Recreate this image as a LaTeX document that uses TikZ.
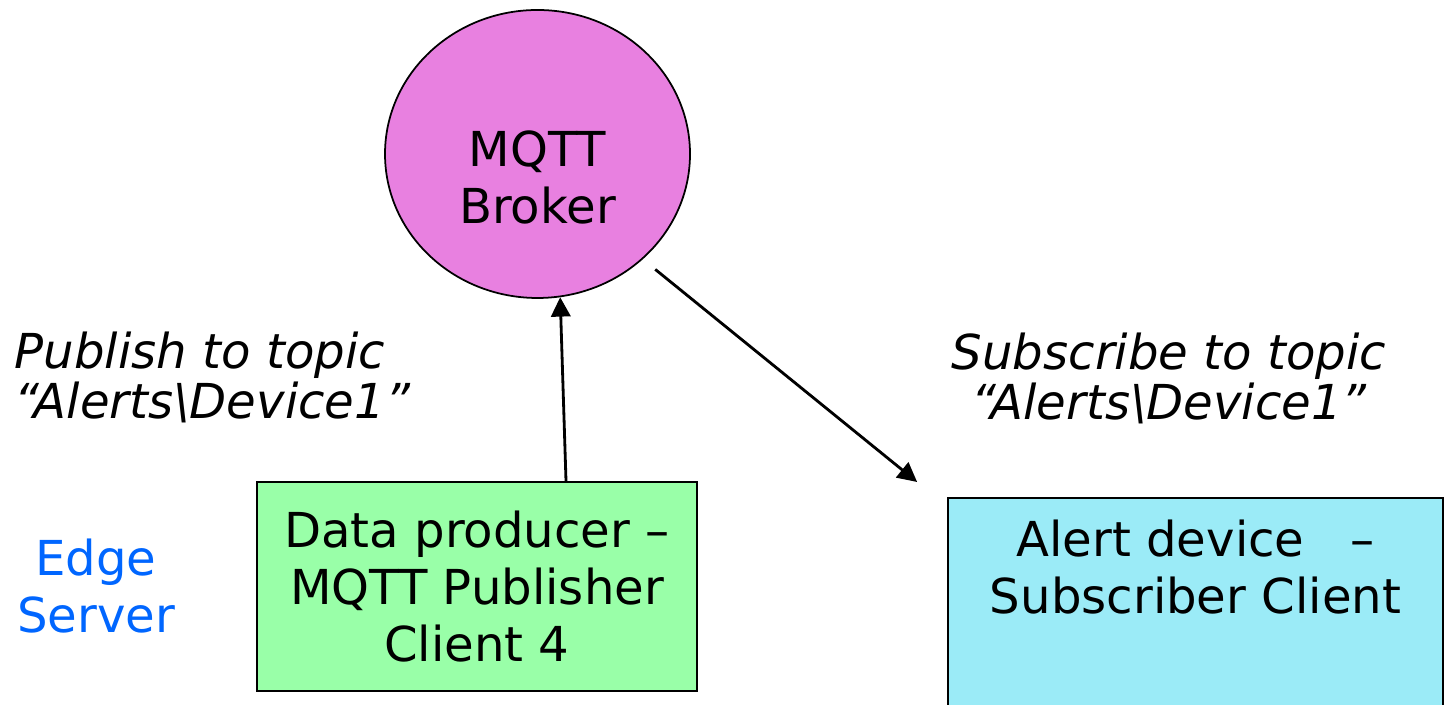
\documentclass[tikz,border=0pt]{standalone}
\usepackage{fontspec}
\setmainfont{DejaVu Sans}
\usepackage{tikz}
\usetikzlibrary{shapes,arrows.meta,positioning,calc}

\definecolor{brokerpink}{RGB}{232,128,224}
\definecolor{pubgreen}{RGB}{153,255,168}
\definecolor{subcyan}{RGB}{155,235,247}
\definecolor{edgeblue}{RGB}{0,102,255}

\begin{document}
\begin{tikzpicture}[
    txt/.style={font=\fontsize{13.7pt}{16.2pt}\selectfont, align=center, inner sep=0pt},
    topic/.style={font=\fontsize{13.7pt}{14.2pt}\selectfont\itshape, inner sep=0pt},
    box/.style={draw, line width=0.5pt, rectangle, inner sep=0pt},
    msg/.style={-{Triangle[length=5.5pt,width=5.5pt]}, line width=0.8pt}
]
    \useasboundingbox (0,0) rectangle (14.47,7.05);
    \fill[white] (0,0) rectangle (14.47,7.05);

    % Broker
    \node[ellipse, draw, line width=0.5pt, fill=brokerpink, minimum width=3.05cm, minimum height=2.88cm, inner sep=0pt] (broker) at (5.375,5.51) {};
    \node[txt] (brokerlbl) at ([yshift=-0.235cm]broker.center) {MQTT\\Broker};

    % Publisher client and edge server
    \node[box, txt, fill=pubgreen, minimum width=4.4cm, minimum height=2.09cm] (pub) at (4.77,1.185) {Data producer –\\MQTT Publisher\\Client 4};
    \node[txt, text=edgeblue] (edge) at (0.96,1.185) {Edge\\Server};

    % Subscriber client (runs off the bottom)
    \node[box, fill=subcyan, minimum width=4.95cm, minimum height=2.4cm, anchor=north] (sub) at (11.955,2.08) {};
    \node[txt, below=0.22cm of sub.north] (alertlbl) {Alert device\ \ \ –\\Subscriber Client};

    % Topic labels
    \node[topic, align=left, anchor=west] (publbl) at (0.14,3.275) {Publish to topic\\“Alerts\textbackslash Device1”};
    \node[topic, align=center] (sublbl) at (11.69,3.265) {Subscribe to topic\\“Alerts\textbackslash Device1”};

    % Messages
    \draw[msg] ([xshift=0.89cm]pub.north) -- (broker.-81);
    \coordinate (alertin) at ([xshift=-0.3cm,yshift=0.15cm]sub.north west);
    \draw[msg, shorten <=0.16cm] (broker.-45.6) -- (alertin);
\end{tikzpicture}
\end{document}
